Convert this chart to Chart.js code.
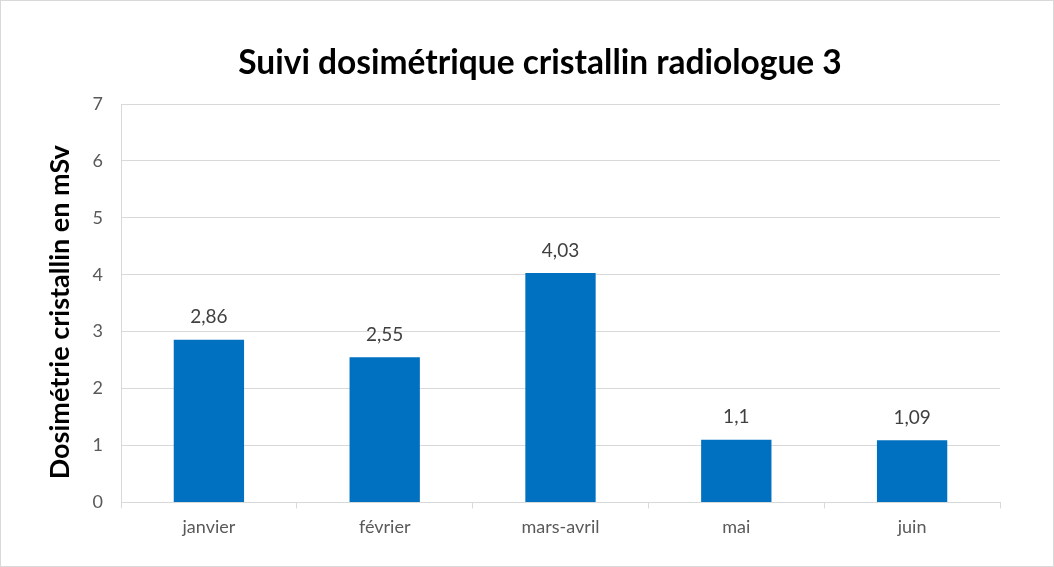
<!DOCTYPE html>
<html>
<head>
<meta charset="utf-8">
<script src="https://cdn.jsdelivr.net/npm/chart.js@4"></script>
<style>
  body { margin: 0; background: #fff; }
  #wrap { width: 1054px; height: 567px; box-sizing: border-box; border: 1px solid #d9d9d9; }
</style>
</head>
<body>
<div id="wrap"><canvas id="doseChart" width="1052" height="565"></canvas></div>
<script>
// donnees du graphique
const months = ['janvier', 'février', 'mars-avril', 'mai', 'juin'];
const doseValues = [2.86, 2.55, 4.03, 1.1, 1.09];
const doseLabels = ['2,86', '2,55', '4,03', '1,1', '1,09'];
const chartTitle = 'Suivi dosimétrique cristallin radiologue 3';
const yTitle = 'Dosimétrie cristallin en mSv';

const FONT = "Lato, 'Open Sans', sans-serif";

// titres dessines a la main (centrage comme dans Excel)
const titles = {
  id: 'titles',
  afterDraw(chart) {
    const ctx = chart.ctx;
    const area = chart.chartArea;
    ctx.save();
    ctx.fillStyle = '#000';
    ctx.textAlign = 'center';
    ctx.textBaseline = 'middle';
    ctx.font = 'bold 33.5px ' + FONT;
    ctx.fillText(chartTitle, 539, 62);
    ctx.translate(59, (area.top + area.bottom) / 2 + 9);
    ctx.rotate(-Math.PI / 2);
    ctx.font = 'bold 27px ' + FONT;
    ctx.fillText(yTitle, 0, 0);
    ctx.restore();
  }
};

// etiquettes au-dessus des barres
const barLabels = {
  id: 'barLabels',
  afterDatasetsDraw(chart) {
    const ctx = chart.ctx;
    const meta = chart.getDatasetMeta(0);
    ctx.save();
    ctx.font = '19px ' + FONT;
    ctx.fillStyle = '#404040';
    ctx.textAlign = 'center';
    ctx.textBaseline = 'bottom';
    meta.data.forEach((bar, i) => {
      ctx.fillText(doseLabels[i], bar.x, bar.y - 13);
    });
    ctx.restore();
  }
};

new Chart(document.getElementById('doseChart').getContext('2d'), {
  type: 'bar',
  data: {
    labels: months,
    datasets: [{
      data: doseValues,
      backgroundColor: '#0070c0',
      barPercentage: 0.4,
      categoryPercentage: 1.0
    }]
  },
  options: {
    responsive: false,
    animation: false,
    layout: { padding: { left: 40, right: 53, top: 103, bottom: 20 } },
    plugins: {
      legend: { display: false },
      tooltip: { enabled: false },
      title: { display: false }
    },
    scales: {
      x: {
        grid: { offset: true, drawOnChartArea: false, color: '#d9d9d9', tickLength: 6 },
        border: { color: '#d9d9d9' },
        ticks: { color: '#595959', font: { family: FONT, size: 18 }, padding: 8 }
      },
      y: {
        min: 0,
        max: 7,
        ticks: { stepSize: 1, color: '#595959', font: { family: FONT, size: 18 }, padding: 18 },
        grid: { color: '#d9d9d9', drawTicks: false },
        border: { color: '#d9d9d9' },
        afterFit(scale) { scale.width = 80; }
      }
    }
  },
  plugins: [barLabels, titles]
});
</script>
</body>
</html>
